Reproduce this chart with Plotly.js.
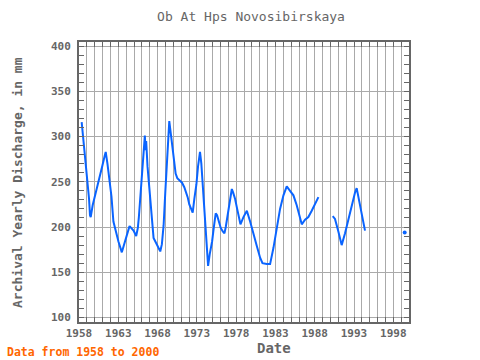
<!DOCTYPE html>
<html>
<head>
<meta charset="utf-8">
<script src="https://cdn.plot.ly/plotly-3.0.1.min.js"></script>
<style>html,body{margin:0;padding:0;background:#fff;}#chart{width:480px;height:360px;}</style>
</head>
<body>
<div id="chart"></div>
<script>
// Segment 1 (1958 - 1988)
const seg1Years = [1958.34,1958.55,1958.72,1958.85,1959.06,1959.19,1959.28,1959.40,1959.49,1959.74,1960.04,1960.34,1960.68,1960.98,1961.28,1961.40,1961.62,1961.87,1962.13,1962.38,1962.68,1963.02,1963.45,1963.74,1964.09,1964.43,1964.64,1964.94,1965.28,1965.49,1965.62,1965.79,1966.00,1966.17,1966.38,1966.47,1966.55,1966.72,1966.94,1967.15,1967.32,1967.49,1967.83,1968.13,1968.34,1968.55,1968.77,1968.98,1969.19,1969.36,1969.49,1969.70,1969.87,1970.13,1970.30,1970.51,1970.81,1971.11,1971.40,1971.57,1971.83,1972.04,1972.26,1972.47,1972.68,1972.94,1973.15,1973.28,1973.40,1973.57,1973.74,1973.96,1974.13,1974.30,1974.43,1974.64,1974.94,1975.15,1975.40,1975.57,1975.83,1976.04,1976.30,1976.51,1976.68,1976.94,1977.19,1977.45,1977.62,1977.87,1978.13,1978.40,1978.55,1978.93,1979.36,1979.78,1980.20,1980.63,1981.05,1981.35,1981.90,1982.32,1982.75,1983.17,1983.59,1984.02,1984.44,1984.86,1985.29,1985.71,1986.05,1986.35,1986.77,1987.19,1987.62,1988.04,1988.47];
const seg1Values = [316,297,283,272,258,243,231,213,211,224,234,247,258,268,279,283,270,252,234,206,195,184,172,181,190,201,199,196,190,199,211,231,252,274,301,285,295,267,242,220,202,188,182,177,173,181,202,238,274,302,317,302,288,272,259,254,252,249,244,240,233,225,220,216,231,247,267,277,283,270,245,216,188,166,157,170,184,199,215,213,206,199,195,193,200,213,227,242,238,231,220,207,203,211,218,206,191,179,166,160,159,159,177,199,220,235,245,240,235,224,213,203,208,211,218,226,233];
// Segment 2 (1990 - 1994)
const seg2Years = [1990.29,1990.58,1991.01,1991.43,1991.86,1992.28,1992.70,1993.13,1993.34,1993.56,1993.85,1994.19,1994.40];
const seg2Values = [212,209,195,180,193,208,224,238,243,234,222,208,196];
// Isolated value
const lastYears = [1999.45];
const lastValues = [194];

const xTickVals = [1958,1963,1968,1973,1978,1983,1988,1993,1998];
const yTickVals = [100,150,200,250,300,350,400];

const lineColor = '#0a64ff';
const grey = '#666666';
const mono = 'DejaVu Sans Mono, Liberation Mono, monospace';

const traces = [
  {x: seg1Years, y: seg1Values, mode: 'lines', line: {color: lineColor, width: 2}, hoverinfo: 'skip'},
  {x: seg2Years, y: seg2Values, mode: 'lines', line: {color: lineColor, width: 2}, hoverinfo: 'skip'},
  {x: lastYears, y: lastValues, mode: 'markers', marker: {color: lineColor, size: 4}, hoverinfo: 'skip'}
];

const layout = {
  width: 480, height: 360,
  paper_bgcolor: '#ffffff', plot_bgcolor: '#ffffff',
  showlegend: false,
  margin: {l: 79, r: 71, t: 42, b: 38, pad: 0},
  title: {text: 'Ob At Hps Novosibirskaya', x: 0.523, xanchor: 'center', y: 0.953, yanchor: 'middle', yref: 'container',
          font: {family: mono, size: 13, color: grey}},
  xaxis: {
    range: [1958, 2000], tickmode: 'array', tickvals: xTickVals, ticktext: xTickVals.map(String),
    showgrid: true, gridcolor: '#aaaaaa', gridwidth: 1,
    showline: true, linecolor: grey, linewidth: 2, mirror: 'allticks',
    ticks: 'inside', ticklen: 5, tickcolor: grey, tickwidth: 1,
    minor: {dtick: 1, tick0: 1958, showgrid: true, gridcolor: '#aaaaaa', gridwidth: 1, ticks: 'inside', ticklen: 5, tickcolor: grey},
    tickfont: {family: mono, size: 11, color: grey, weight: 'bold'},
    zeroline: false
  },
  yaxis: {
    range: [95, 404.5], tickmode: 'array', tickvals: yTickVals, ticktext: yTickVals.map(String),
    showgrid: true, gridcolor: '#aaaaaa', gridwidth: 1,
    showline: true, linecolor: grey, linewidth: 2, mirror: 'allticks',
    ticks: 'inside', ticklen: 5, tickcolor: grey, tickwidth: 1,
    minor: {dtick: 10, tick0: 100, showgrid: false, ticks: 'inside', ticklen: 5, tickcolor: grey},
    tickfont: {family: mono, size: 11, color: grey, weight: 'bold'},
    ticklabelstandoff: 4,
    zeroline: false
  },
  annotations: [
    {text: 'Archival Yearly Discharge, in mm', textangle: -90, xref: 'paper', yref: 'paper',
     x: -0.188, y: 0.5, xanchor: 'center', yanchor: 'middle', showarrow: false,
     font: {family: mono, size: 13, color: grey, weight: 'bold'}},
    {text: 'Date', xref: 'paper', yref: 'paper', x: 0.59, y: -0.093, xanchor: 'center', yanchor: 'middle',
     showarrow: false, font: {family: mono, size: 14, color: grey, weight: 'bold'}},
    {text: 'Data from 1958 to 2000', xref: 'paper', yref: 'paper', x: -0.224, y: -0.107, xanchor: 'left', yanchor: 'middle',
     showarrow: false, font: {family: mono, size: 11.5, color: '#ff6600', weight: 'bold'}}
  ]
};

Plotly.newPlot('chart', traces, layout, {staticPlot: true, displayModeBar: false});
</script>
</body>
</html>
